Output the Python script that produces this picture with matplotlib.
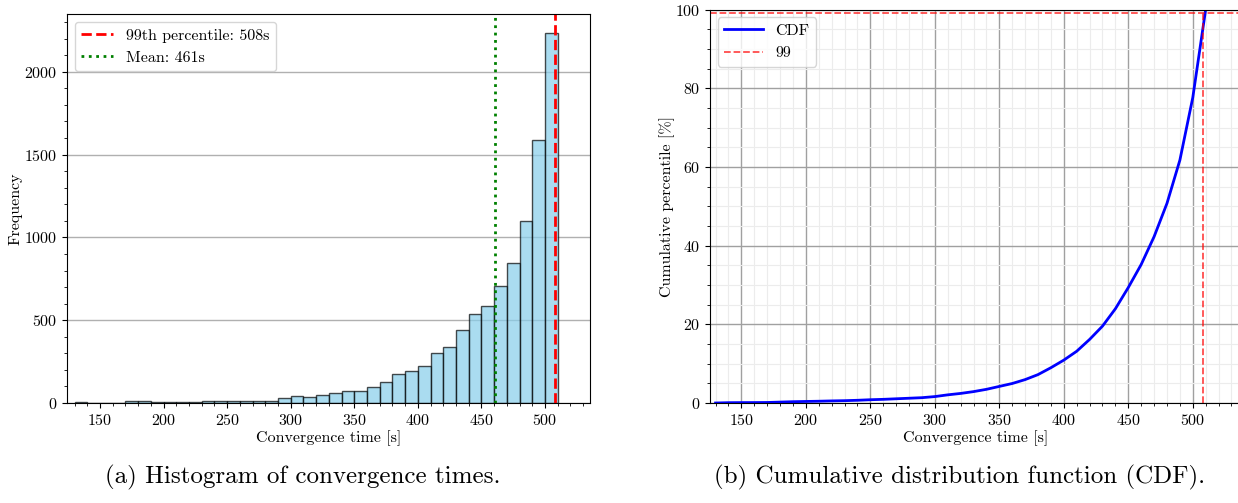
import numpy as np
import matplotlib
matplotlib.use("Agg")
import matplotlib.pyplot as plt
from matplotlib.ticker import MultipleLocator

plt.rcParams['font.family'] = 'serif'
plt.rcParams['font.serif'] = ['cmr10', 'DejaVu Serif']
plt.rcParams['mathtext.fontset'] = 'cm'
plt.rcParams['axes.formatter.use_mathtext'] = True
plt.rcParams['axes.unicode_minus'] = False

# ---- data ----
bin_start = 130
bin_width = 10
counts = [8, 2, 1, 2, 10, 10, 6, 6, 8, 6, 10, 14, 10, 14, 14, 14,
          28, 44, 36, 46, 58, 74, 74, 99, 127, 175, 193, 225,
          300, 338, 441, 539, 585, 706, 847, 1097, 1588, 2237]
p99 = 508
mean_val = 461
cdf_level = 99

counts = np.array(counts, dtype=float)
edges = bin_start + bin_width * np.arange(len(counts) + 1)
centers = (edges[:-1] + edges[1:]) / 2
cdf = np.concatenate([[0], np.cumsum(counts)]) / counts.sum() * 100

FS = 11.5
W, H = 1238, 503
fig = plt.figure(figsize=(W / 100, H / 100), dpi=100)

def pos(l, t, r, b):
    return [l / W, 1 - b / H, (r - l) / W, (b - t) / H]

# ---- (a) histogram ----
ax1 = fig.add_axes(pos(67, 14, 590, 403))
ax1.hist(centers, bins=edges, weights=counts, color='skyblue', alpha=0.7,
         edgecolor='black', linewidth=1)
ax1.axvline(p99, color='red', linestyle='--', linewidth=2,
            label=f'99th percentile: {p99}s')
ax1.axvline(mean_val, color='green', linestyle=':', linewidth=2,
            label=f'Mean: {mean_val}s')
ax1.set_xlim(124, 535.4)
ax1.set_ylim(0, 2349)
ax1.xaxis.set_major_locator(MultipleLocator(50))
ax1.xaxis.set_minor_locator(MultipleLocator(10))
ax1.yaxis.set_major_locator(MultipleLocator(500))
ax1.yaxis.set_minor_locator(MultipleLocator(100))
ax1.grid(axis='y', color='#b0b0b0', linewidth=1)
ax1.set_axisbelow(True)
ax1.set_xlabel('Convergence time [s]', fontsize=FS, labelpad=2)
ax1.set_ylabel('Frequency', fontsize=FS, labelpad=1)
ax1.tick_params(labelsize=FS)
ax1.legend(loc='upper left', fontsize=FS, framealpha=0.8)

# ---- (b) CDF ----
ax2 = fig.add_axes(pos(710, 9.5, 1240.5, 403))
ax2.plot(edges, cdf, color='blue', linewidth=2, label='CDF')
ax2.axhline(cdf_level, color='red', linestyle='--', linewidth=1.3, alpha=0.7,
            label=f'{cdf_level}')
ax2.axvline(p99, color='red', linestyle='--', linewidth=1.3, alpha=0.7)
ax2.set_xlim(125.7, 537)
ax2.set_ylim(0, 100)
ax2.xaxis.set_major_locator(MultipleLocator(50))
ax2.xaxis.set_minor_locator(MultipleLocator(10))
ax2.yaxis.set_major_locator(MultipleLocator(20))
ax2.yaxis.set_minor_locator(MultipleLocator(5))
ax2.grid(which='major', color='#a0a0a0', linewidth=1)
ax2.grid(which='minor', color='#ececec', linewidth=0.8)
ax2.set_axisbelow(True)
ax2.set_xlabel('Convergence time [s]', fontsize=FS, labelpad=2)
ax2.set_ylabel('Cumulative percentile [%]', fontsize=FS, labelpad=0)
ax2.tick_params(labelsize=FS)
ax2.legend(loc='upper left', fontsize=FS, framealpha=0.8, handlelength=2.4)

# ---- captions ----
fig.text(303 / W, 1 - 477 / H, '(a) Histogram of convergence times.',
         ha='center', va='center', fontsize=18)
fig.text(960 / W, 1 - 477 / H, '(b) Cumulative distribution function (CDF).',
         ha='center', va='center', fontsize=18)

fig.savefig('out.png', dpi=100)
